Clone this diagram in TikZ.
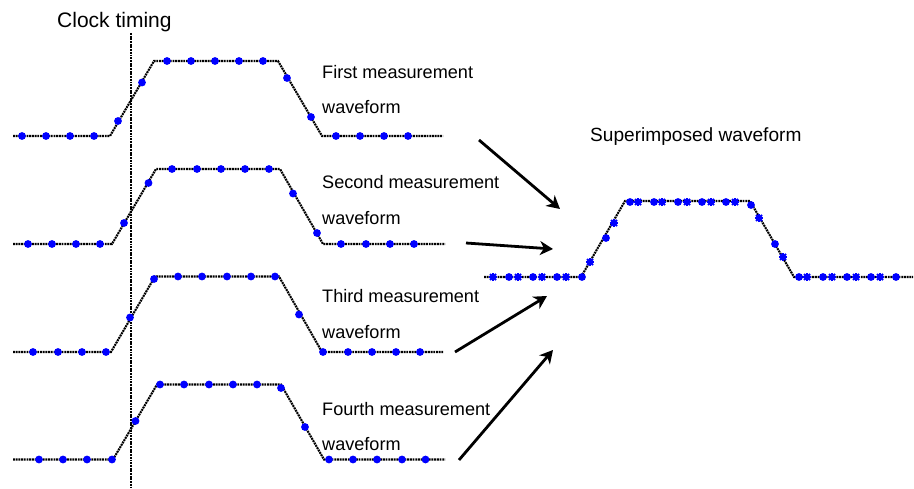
\documentclass[tikz,border=0pt]{standalone}
\usepackage{fontspec}
\setmainfont{Liberation Sans}
\usetikzlibrary{arrows.meta}
\tikzset{
  wave/.style={line width=2.1pt,dash pattern=on 1.9pt off 0.8pt,black},
  clockline/.style={line width=2.1pt,dash pattern=on 1.9pt off 0.8pt,black},
  bigarrow/.style={line width=2.8pt,black,-{Stealth[length=13pt,width=14pt,inset=4pt]}},
  lbl/.style={anchor=base west,inner sep=0pt,text=black,font=\fontsize{18.1pt}{20pt}\selectfont},
  xsample/.style={line width=1.8pt,blue}
}
\newcommand{\smark}[1]{\fill[blue] #1 circle (3.9pt);}
\newcommand{\xmark}[1]{\fill[blue] #1 circle (3.1pt);
  \draw[xsample] #1 ++(-4.2pt,0pt) -- ++(8.4pt,0pt);
  \draw[xsample] #1 ++(0pt,-4.2pt) -- ++(0pt,8.4pt);
  \draw[xsample] #1 ++(-3pt,-3pt) -- ++(6pt,6pt);
  \draw[xsample] #1 ++(-3pt,3pt) -- ++(6pt,-6pt);}
\begin{document}
\begin{tikzpicture}[x=1pt,y=-1pt]
\useasboundingbox (0,0) rectangle (914,489);
% clock line
\coordinate (clkA) at (130.8,33);
\coordinate (clkB) at (130.8,489);
\draw[clockline] (clkA) -- (clkB);
% waveform 1
\draw[wave] (13,136) -- (110,136) -- (154,61) -- (278,61) -- (322,136) -- (443,136);
\foreach \p in {(22,136),(46,136),(70,136),(94,136),(118,121),(142,82.5),(167,61),(191,61),(215,61),(239,61),(263,61),(287,78),(311,117),(336,136),(360,136),(384,136),(408,136)} {\smark{\p}}
% waveform 2
\draw[wave] (13,244) -- (112,244) -- (156,169) -- (280,169) -- (323,244) -- (445,244);
\foreach \p in {(28,244),(52,244),(76,244),(100,244),(124,223),(148.5,183),(172,169),(197,169),(221,169),(245,169),(269,169),(293,193.5),(317,233),(341,244),(366,244),(390,244),(414,244)} {\smark{\p}}
% waveform 3
\draw[wave] (13,352) -- (111,352) -- (155,276.5) -- (279,276.5) -- (322,352) -- (443,352);
\foreach \p in {(33,352),(58,352),(82,352),(106,352),(130,317.5),(154,279),(178,276.5),(202,276.5),(227,276.5),(251,276.5),(275,276.5),(299,314.5),(323,352),(348,352),(372,352),(396,352),(420,352)} {\smark{\p}}
% waveform 4
\draw[wave] (13,459.5) -- (113,459.5) -- (157,384.5) -- (281,384.5) -- (324,459.5) -- (445,459.5);
\foreach \p in {(39,459.5),(63,459.5),(87,459.5),(112,459.5),(135.5,421),(160,384.5),(184,384.5),(209,384.5),(233,384.5),(257,384.5),(281,388),(305,427),(329,459.5),(353,459.5),(377,459.5),(402,459.5),(425.5,459.5)} {\smark{\p}}
% superimposed
\draw[wave] (484,277) -- (581,277) -- (625,201) -- (750,201) -- (794,277) -- (913,277);
\foreach \p in {(509,277),(533,277),(557,277),(582,277),(606,238),(630,202),(654,202),(678,202),(702,202),(726,202),(751,205),(775,244),(799,277),(823,277),(847,277),(871,277),(896,277)} {\smark{\p}}
\foreach \p in {(493,277),(518,277),(542,277),(566,277),(590,262),(614,223),(638,202),(662,202),(687,202),(711,202),(735,202),(759,218),(783,257),(807,277),(832,277),(856,277),(880,277)} {\xmark{\p}}
% labels
\node[lbl,font=\fontsize{21pt}{23pt}\selectfont] (clk) at (57,28) {Clock timing};
\node[lbl] (l1a) at (322,79) {First measurement};
\node[lbl] (l1b) at (322,114) {waveform};
\node[lbl] (l2a) at (322,189) {Second measurement};
\node[lbl] (l2b) at (322,225) {waveform};
\node[lbl] (l3a) at (322,303) {Third measurement};
\node[lbl] (l3b) at (322,339) {waveform};
\node[lbl] (l4a) at (322,415) {Fourth measurement};
\node[lbl] (l4b) at (322,450) {waveform};
\node[lbl,font=\fontsize{19.1pt}{21pt}\selectfont] (sup) at (590,142) {Superimposed waveform};
% arrows
\coordinate (a1s) at (479,140); \coordinate (a1e) at (560,209);
\coordinate (a2s) at (466,243); \coordinate (a2e) at (553,249);
\coordinate (a3s) at (455,352); \coordinate (a3e) at (547,296);
\coordinate (a4s) at (459,460); \coordinate (a4e) at (553,350);
\draw[bigarrow] (a1s) -- (a1e);
\draw[bigarrow] (a2s) -- (a2e);
\draw[bigarrow] (a3s) -- (a3e);
\draw[bigarrow] (a4s) -- (a4e);
\end{tikzpicture}
\end{document}
